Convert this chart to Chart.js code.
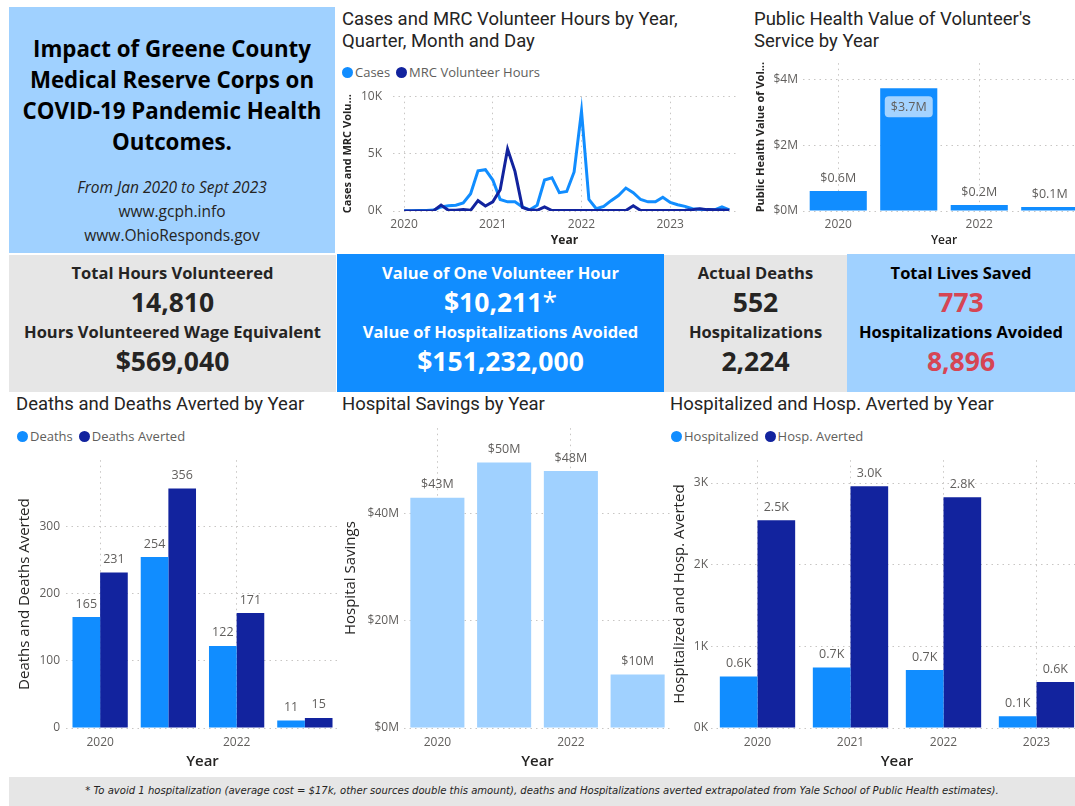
<!DOCTYPE html>
<html>
<head>
<meta charset="utf-8">
<script src="https://cdn.jsdelivr.net/npm/chart.js@4.4.0/dist/chart.umd.min.js"></script>
<style>
html, body { margin:0; padding:0; background:#fff; width:1075px; height:806px; overflow:hidden; }
body { position:relative; font-family:"Open Sans", sans-serif; color:#252423; }
.abs { position:absolute; }
.title { font-family:Roboto, sans-serif; font-size:18.5px; line-height:22px; color:#252423; white-space:nowrap; }
.legend { font-size:13px; color:#605E5C; white-space:nowrap; height:16px; line-height:16px; }
.legend span.dot { display:inline-block; width:11px; height:11px; border-radius:50%; vertical-align:-1px; margin-right:2px; }
.legend span.item { margin-right:6px; }
.box { text-align:center; font-weight:700; }
.box div { position:absolute; left:0; right:0; white-space:nowrap; }
.lab { font-size:16.5px; }
.num { font-size:26.5px; }
</style>
</head>
<body>

<!-- title panel -->
<div class="abs" style="left:9px;top:7px;width:326px;height:246px;background:#A0D1FF;text-align:center;">
  <div style="position:absolute;left:0;right:0;top:26px;font-size:22.3px;font-weight:700;line-height:31px;color:#000;">Impact of Greene County<br>Medical Reserve Corps on<br>COVID-19 Pandemic Health<br>Outcomes.</div>
  <div style="position:absolute;left:0;right:0;top:168px;font-size:15.5px;line-height:24px;color:#252423;"><i>From Jan 2020 to Sept 2023</i><br>www.gcph.info<br>www.OhioResponds.gov</div>
</div>

<!-- chart titles -->
<div class="abs title" style="left:342px;top:8px;">Cases and MRC Volunteer Hours by Year,<br>Quarter, Month and Day</div>
<div class="abs title" style="left:754px;top:8px;">Public Health Value of Volunteer's<br>Service by Year</div>
<div class="abs title" style="left:16px;top:393px;">Deaths and Deaths Averted by Year</div>
<div class="abs title" style="left:342px;top:393px;">Hospital Savings by Year</div>
<div class="abs title" style="left:670px;top:393px;">Hospitalized and Hosp. Averted by Year</div>

<!-- legends -->
<div class="abs legend" style="left:342px;top:64px;"><span class="item"><span class="dot" style="background:#118DFF"></span>Cases</span><span class="item"><span class="dot" style="background:#12239E"></span>MRC Volunteer Hours</span></div>
<div class="abs legend" style="left:17px;top:428px;"><span class="item"><span class="dot" style="background:#118DFF"></span>Deaths</span><span class="item"><span class="dot" style="background:#12239E"></span>Deaths Averted</span></div>
<div class="abs legend" style="left:671px;top:428px;"><span class="item"><span class="dot" style="background:#118DFF"></span>Hospitalized</span><span class="item"><span class="dot" style="background:#12239E"></span>Hosp. Averted</span></div>

<!-- KPI row -->
<div class="abs box" style="left:9px;top:255px;width:327px;height:137px;background:#E6E6E6;color:#252423;">
  <div class="lab" style="top:6px;">Total Hours Volunteered</div>
  <div class="num" style="top:29px;">14,810</div>
  <div class="lab" style="top:65px;">Hours Volunteered Wage Equivalent</div>
  <div class="num" style="top:88px;">$569,040</div>
</div>
<div class="abs box" style="left:337px;top:254px;width:327px;height:138px;background:#118DFF;color:#fff;">
  <div class="lab" style="top:7px;">Value of One Volunteer Hour</div>
  <div class="num" style="top:30px;">$10,211<span style="font-weight:400">*</span></div>
  <div class="lab" style="top:66px;">Value of Hospitalizations Avoided</div>
  <div class="num" style="top:89px;">$151,232,000</div>
</div>
<div class="abs box" style="left:664px;top:255px;width:183px;height:137px;background:#E6E6E6;color:#252423;">
  <div class="lab" style="top:6px;">Actual Deaths</div>
  <div class="num" style="top:29px;">552</div>
  <div class="lab" style="top:65px;">Hospitalizations</div>
  <div class="num" style="top:88px;">2,224</div>
</div>
<div class="abs box" style="left:847px;top:254px;width:228px;height:138px;background:#A0D1FF;color:#000;">
  <div class="lab" style="top:7px;">Total Lives Saved</div>
  <div class="num" style="top:30px;color:#D64554;">773</div>
  <div class="lab" style="top:66px;">Hospitalizations Avoided</div>
  <div class="num" style="top:89px;color:#D64554;">8,896</div>
</div>

<!-- charts -->
<div class="abs" style="left:336px;top:78px;width:400px;height:170px;"><canvas id="lineChart"></canvas></div>
<div class="abs" style="left:745px;top:51px;width:340px;height:197px;"><canvas id="phChart"></canvas></div>
<div class="abs" style="left:9px;top:447px;width:330px;height:324px;"><canvas id="deathsChart"></canvas></div>
<div class="abs" style="left:336px;top:416px;width:335px;height:355px;"><canvas id="savingsChart"></canvas></div>
<div class="abs" style="left:668px;top:450px;width:415px;height:321px;"><canvas id="hospChart"></canvas></div>

<!-- footer -->
<div class="abs" style="left:9px;top:777px;width:1066px;height:29px;background:#E6E6E6;"></div>
<div class="abs" style="left:9px;top:784px;width:1066px;text-align:center;font-family:'DejaVu Sans Condensed','Open Sans',sans-serif;font-style:italic;font-size:11.2px;color:#252423;">* To avoid 1 hospitalization (average cost = $17k, other sources double this amount), deaths and Hospitalizations averted extrapolated from Yale School of Public Health estimates).</div>

<script>
// ---- data ----
const monthLabels = [
  '2020-01','2020-02','2020-03','2020-04','2020-05','2020-06','2020-07','2020-08','2020-09','2020-10','2020-11','2020-12',
  '2021-01','2021-02','2021-03','2021-04','2021-05','2021-06','2021-07','2021-08','2021-09','2021-10','2021-11','2021-12',
  '2022-01','2022-02','2022-03','2022-04','2022-05','2022-06','2022-07','2022-08','2022-09','2022-10','2022-11','2022-12',
  '2023-01','2023-02','2023-03','2023-04','2023-05','2023-06','2023-07','2023-08','2023-09'
];
const cases = [
  20, 20, 50, 50, 80, 350, 450, 500, 700, 1500, 3500, 3600,
  2700, 1000, 800, 800, 350, 100, 500, 2700, 2900, 1600, 1700, 3400,
  8700, 1000, 200, 400, 900, 1350, 2000, 1600, 1000, 800, 800, 1200,
  750, 550, 400, 200, 150, 100, 100, 350, 100
];
const mrcHours = [
  0, 0, 0, 10, 30, 520, 60, 70, 120, 60, 900, 430,
  800, 1850, 5400, 3450, 320, 80, 60, 350, 40, 40, 40, 40,
  40, 40, 40, 40, 40, 40, 40, 450, 50, 40, 40, 40,
  40, 40, 60, 120, 200, 120, 100, 80, 60
];

const years = ['2020', '2021', '2022', '2023'];
const publicHealthValue = [610000, 3740000, 180000, 120000];
const deaths = [165, 254, 122, 11];
const deathsAverted = [231, 356, 171, 15];
const hospitalSavings = [43000000, 49600000, 48000000, 10000000];
const hospitalized = [630, 740, 710, 144];
const hospAverted = [2545, 2962, 2827, 562];

// ---- shared styling ----
const LIGHT = '#118DFF', DARK = '#12239E', PALE = '#A0D1FF';
const GRID = '#C8C6C4', TICK = '#605E5C', TXT = '#252423';
const FONT = '"Open Sans", sans-serif';
Chart.defaults.font.family = FONT;
Chart.defaults.animation = false;

// draws the value above each bar (power bi style data labels)
const valueLabels = {
  id: 'valueLabels',
  afterDatasetsDraw(chart, args, opts) {
    if (!opts.format) return;
    const ctx = chart.ctx;
    ctx.save();
    ctx.font = '12.5px ' + FONT;
    ctx.textAlign = 'center';
    ctx.textBaseline = 'middle';
    chart.data.datasets.forEach((ds, di) => {
      chart.getDatasetMeta(di).data.forEach((bar, i) => {
        const txt = opts.format(ds.data[i]);
        if (opts.inside && opts.inside(di, i)) {
          const w = ctx.measureText(txt).width + 12;
          ctx.fillStyle = 'rgba(255,255,255,0.62)';
          ctx.beginPath();
          ctx.roundRect(bar.x - w / 2, bar.y + 8, w, 21, 4);
          ctx.fill();
          ctx.fillStyle = TICK;
          ctx.fillText(txt, bar.x, bar.y + 19);
        } else {
          ctx.fillStyle = TICK;
          ctx.fillText(txt, bar.x, bar.y - 13);
        }
      });
    });
    ctx.restore();
  }
};

function fixWidth(w) { return (s) => { s.width = w; }; }
function fixHeight(h) { return (s) => { s.height = h; }; }
// only keep round ticks (0, step, 2*step ...) below the axis max
function stepTicks(step) {
  return (s) => {
    const t = [];
    for (let v = 0; v <= s.max + 1e-6; v += step) t.push({ value: v });
    s.ticks = t;
  };
}

function barChart(id, o) {
  return new Chart(document.getElementById(id), {
    type: 'bar',
    data: { labels: years, datasets: o.datasets },
    options: {
      responsive: true,
      maintainAspectRatio: false,
      layout: { padding: { top: 0, right: 0, left: 0, bottom: 0 } },
      plugins: { legend: { display: false }, tooltip: { enabled: false }, valueLabels: { format: o.format, inside: o.inside } },
      datasets: { bar: { categoryPercentage: 0.81, barPercentage: 1.0, borderWidth: 0 } },
      scales: {
        x: {
          afterFit: fixHeight(o.xHeight),
          grid: { offset: false, drawTicks: false, color: (c) => o.xShow(c.index) ? GRID : 'transparent', lineWidth: 1, borderDash: [1.5, 4] },
          border: { display: false, dash: [1.5, 4] },
          ticks: { autoSkip: false, maxRotation: 0, padding: o.xPad, color: TICK, font: { size: 12 },
                   callback: function (v, i) { return o.xShow(i) ? this.getLabelForValue(v) : ''; } },
          title: { display: true, text: 'Year', color: TXT, padding: 0, font: { size: o.yearSize || 15, weight: '600' } }
        },
        y: {
          min: 0, max: o.max,
          afterFit: fixWidth(o.yWidth),
          afterBuildTicks: stepTicks(o.step),
          grid: { drawTicks: false, color: GRID, lineWidth: 1, borderDash: [1.5, 4] },
          border: { display: false, dash: [1.5, 4] },
          ticks: { padding: o.yPad, color: TICK, font: { size: 12 }, callback: o.yFmt },
          title: { display: true, text: o.yTitle, color: TXT, padding: o.yTitlePad, font: { size: o.yTitleSize, weight: o.yTitleWeight || '400' } }
        }
      }
    },
    plugins: [valueLabels]
  });
}

// ---- line chart: cases and MRC hours ----
new Chart(document.getElementById('lineChart'), {
  type: 'line',
  data: {
    labels: monthLabels,
    datasets: [
      { label: 'Cases', data: cases.map((v, i) => ({ x: i, y: v })), borderColor: LIGHT, backgroundColor: LIGHT, borderWidth: 3, pointRadius: 0, tension: 0, order: 2 },
      { label: 'MRC Volunteer Hours', data: mrcHours.map((v, i) => ({ x: i, y: v })), borderColor: DARK, backgroundColor: DARK, borderWidth: 3, pointRadius: 0, tension: 0, order: 1 }
    ]
  },
  options: {
    responsive: true,
    maintainAspectRatio: false,
    layout: { padding: 0 },
    plugins: { legend: { display: false }, tooltip: { enabled: false } },
    scales: {
      x: {
        type: 'linear',
        min: -1.5, max: 44.9,
        afterFit: fixHeight(37),
        afterBuildTicks: (s) => { s.ticks = years.map((y, k) => ({ value: k * 12 })); },
        grid: { drawTicks: false, color: GRID, borderDash: [1.5, 4] },
        border: { display: false, dash: [1.5, 4] },
        ticks: { autoSkip: false, maxRotation: 0, padding: 6, color: TICK, font: { size: 12 },
                 callback: (v) => years[Math.round(v / 12)] },
        title: { display: true, text: 'Year', color: TXT, padding: 0, font: { size: 12, weight: '700' } }
      },
      y: {
        min: 0, max: 10000,
        afterFit: fixWidth(57),
        afterBuildTicks: stepTicks(5000),
        grid: { drawTicks: false, color: GRID, borderDash: [1.5, 4] },
        border: { display: false, dash: [1.5, 4] },
        ticks: { padding: 11, color: TICK, font: { size: 12 }, callback: (v) => (v / 1000) + 'K' },
        title: { display: true, text: 'Cases and MRC Volu...', color: TXT, padding: { top: 5, bottom: 0 }, font: { size: 11, weight: '700' } }
      }
    }
  }
});

// ---- public health value ----
barChart('phChart', {
  datasets: [{ label: 'Public Health Value', data: publicHealthValue, backgroundColor: LIGHT }],
  max: 4500000, step: 2000000,
  yWidth: 58, yPad: 5, yTitle: 'Public Health Value of Vol...', yTitlePad: { top: 9, bottom: 0 }, yTitleSize: 11, yTitleWeight: '700',
  xHeight: 37, xPad: 6, yearSize: 12,
  xShow: (i) => i % 2 === 0,
  yFmt: (v) => '$' + (v / 1e6) + 'M',
  format: (v) => '$' + (v / 1e6).toFixed(1) + 'M',
  inside: (d, i) => i === 1
});

// ---- deaths ----
barChart('deathsChart', {
  datasets: [
    { label: 'Deaths', data: deaths, backgroundColor: LIGHT },
    { label: 'Deaths Averted', data: deathsAverted, backgroundColor: DARK }
  ],
  max: 398, step: 100,
  yWidth: 57, yPad: 6, yTitle: 'Deaths and Deaths Averted', yTitlePad: { top: 7, bottom: 0 }, yTitleSize: 15,
  xHeight: 43, xPad: 7,
  xShow: (i) => i % 2 === 0,
  yFmt: (v) => v,
  format: (v) => v
});

// ---- hospital savings ----
barChart('savingsChart', {
  datasets: [{ label: 'Hospital Savings', data: hospitalSavings, backgroundColor: PALE }],
  max: 56000000, step: 20000000,
  yWidth: 68, yPad: 5, yTitle: 'Hospital Savings', yTitlePad: { top: 6, bottom: 0 }, yTitleSize: 15,
  xHeight: 43, xPad: 7,
  xShow: (i) => i % 2 === 0,
  yFmt: (v) => '$' + (v / 1e6) + 'M',
  format: (v) => '$' + Math.round(v / 1e6) + 'M'
});

// ---- hospitalized ----
barChart('hospChart', {
  datasets: [
    { label: 'Hospitalized', data: hospitalized, backgroundColor: LIGHT },
    { label: 'Hosp. Averted', data: hospAverted, backgroundColor: DARK }
  ],
  max: 3280, step: 1000,
  yWidth: 43, yPad: 3, yTitle: 'Hospitalized and Hosp. Averted', yTitlePad: { top: 3, bottom: 0 }, yTitleSize: 15,
  xHeight: 43, xPad: 7,
  xShow: () => true,
  yFmt: (v) => (v / 1000) + 'K',
  format: (v) => (v / 1000).toFixed(1) + 'K'
});
</script>
</body>
</html>
